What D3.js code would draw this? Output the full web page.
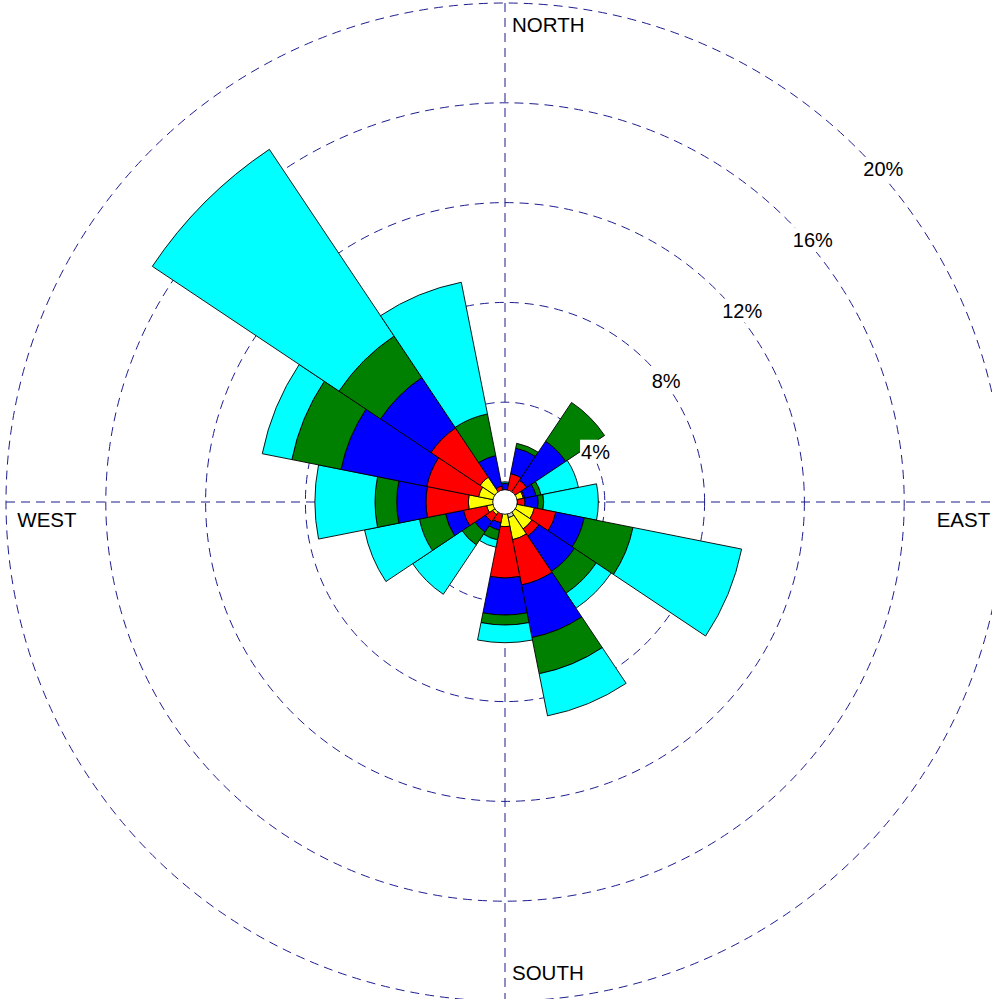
<!DOCTYPE html>
<html>
<head>
<meta charset="utf-8">
<script src="https://cdn.jsdelivr.net/npm/d3@7"></script>
<style>
  html, body { margin: 0; padding: 0; background: #fff; }
  #chart text { font-family: "Liberation Sans", Arial, Helvetica, sans-serif; fill: #000; }
</style>
</head>
<body>
<div id="chart"></div>
<script>
// 16 compass sectors, clockwise from north
const directions = ['N', 'NNE', 'NE', 'ENE', 'E', 'ESE', 'SE', 'SSE', 'S', 'SSW', 'SW', 'WSW', 'W', 'WNW', 'NW', 'NNW'];

// frequency (%) of each speed class per direction, innermost class first
const speedGrey   = [0.30, 0.30, 0.30, 0.30, 0.30, 0.35, 0.35, 0.64, 0.35, 0.30, 0.30, 0.30, 0.35, 0.35, 0.35, 0.30];
const speedYellow = [0.10, 0.15, 0.15, 0.45, 0.20, 0.85, 0.95, 0.90, 0.64, 0.15, 0.30, 0.45, 1.12, 0.73, 0.85, 0.15];
const speedRed    = [0.10, 0.71, 0.60, 0.05, 0.30, 0.88, 0.34, 1.85, 2.06, 0.40, 0.35, 0.95, 1.70, 2.12, 2.37, 0.20];
const speedBlue   = [0.24, 1.04, 1.88, 0.47, 0.53, 1.16, 1.71, 2.15, 1.48, 0.30, 0.50, 0.73, 1.17, 3.50, 2.43, 1.25];
const speedGreen  = [0.02, 0.20, 1.87, 0.20, 0.22, 1.99, 1.05, 1.48, 0.40, 0.40, 0.62, 1.07, 0.87, 2.01, 2.00, 1.70];
const speedCyan   = [0.05, 0.00, 0.00, 1.53, 2.19, 4.44, 0.72, 1.72, 0.71, 0.30, 2.38, 2.24, 2.41, 1.21, 9.00, 5.38];

const ringTicks = [4, 8, 12, 16, 20];
const compassLabels = ['NORTH', 'EAST', 'SOUTH', 'WEST'];

const series = [speedGrey, speedYellow, speedRed, speedBlue, speedGreen, speedCyan];
const colors = ['#c4ccc4', '#ffff00', '#ff0000', '#0000ff', '#008000', '#00ffff'];

const width = 992;
const height = 999;
const cx = 505;
const cy = 502;
const holeRadius = 12.3;

const svg = d3.select('#chart')
    .append('svg')
    .attr('width', width)
    .attr('height', height);

const g = svg.append('g')
    .attr('transform', `translate(${cx},${cy})`);

const rScale = d3.scaleLinear()
    .domain([0, 20])
    .range([0, 499]);

const sector = 2 * Math.PI / directions.length;
const outerR = rScale(20);

// dashed grid: rings + cross
g.selectAll('.ring')
    .data(ringTicks)
    .enter()
    .append('circle')
    .attr('class', 'ring')
    .attr('r', d => rScale(d))
    .attr('fill', 'none')
    .attr('stroke', '#1c1c8e')
    .attr('stroke-width', 1)
    .attr('stroke-dasharray', '9,6');

g.append('line')
    .attr('x1', 0).attr('x2', 0)
    .attr('y1', -outerR).attr('y2', outerR)
    .attr('stroke', '#1c1c8e')
    .attr('stroke-dasharray', '9,6');

g.append('line')
    .attr('y1', 0).attr('y2', 0)
    .attr('x1', -outerR).attr('x2', outerR)
    .attr('stroke', '#1c1c8e')
    .attr('stroke-dasharray', '9,6');

// stack the speed classes per direction
const segments = [];
directions.forEach((dir, i) => {
    let base = 0;
    series.forEach((s, k) => {
        const v = s[i];
        if (v > 0) {
            segments.push({ dir: i, k: k, r0: base, r1: base + v });
        }
        base += v;
    });
});

const arc = d3.arc()
    .innerRadius(d => rScale(d.r0))
    .outerRadius(d => rScale(d.r1))
    .startAngle(d => d.dir * sector - sector / 2)
    .endAngle(d => d.dir * sector + sector / 2);

g.selectAll('.seg')
    .data(segments)
    .enter()
    .append('path')
    .attr('class', 'seg')
    .attr('d', arc)
    .attr('fill', d => colors[d.k])
    .attr('stroke', '#000')
    .attr('stroke-width', 0.9)
    .attr('stroke-linejoin', 'miter');

// calm circle in the middle
g.append('circle')
    .attr('r', holeRadius)
    .attr('fill', '#fff')
    .attr('stroke', '#000')
    .attr('stroke-width', 0.9);

// percentage labels along the 45 degree line, with white boxes
const pctLabels = g.selectAll('.pct')
    .data(ringTicks)
    .enter()
    .append('g')
    .attr('class', 'pct')
    .attr('transform', d => {
        const r = rScale(d);
        return `translate(${r * Math.SQRT1_2 + 5.5},${-r * Math.SQRT1_2 + 27.3})`;
    });

pctLabels.append('text')
    .attr('font-size', '20px')
    .text(d => d + '%');

pctLabels.each(function() {
    const grp = d3.select(this);
    const bb = grp.select('text').node().getBBox();
    grp.insert('rect', 'text')
        .attr('x', bb.x - 1)
        .attr('y', bb.y - 1)
        .attr('width', bb.width + 2)
        .attr('height', bb.height + 2)
        .attr('fill', '#fff');
});

// compass names
const compassPos = [
    { x: 512 - cx, y: 31.7 - cy },
    { x: 936.7 - cx, y: 526.7 - cy },
    { x: 512 - cx, y: 980 - cy },
    { x: 17.3 - cx, y: 526.7 - cy }
];

g.selectAll('.compass')
    .data(compassLabels)
    .enter()
    .append('text')
    .attr('class', 'compass')
    .attr('x', (d, i) => compassPos[i].x)
    .attr('y', (d, i) => compassPos[i].y)
    .attr('font-size', '20.5px')
    .text(d => d);
</script>
</body>
</html>
